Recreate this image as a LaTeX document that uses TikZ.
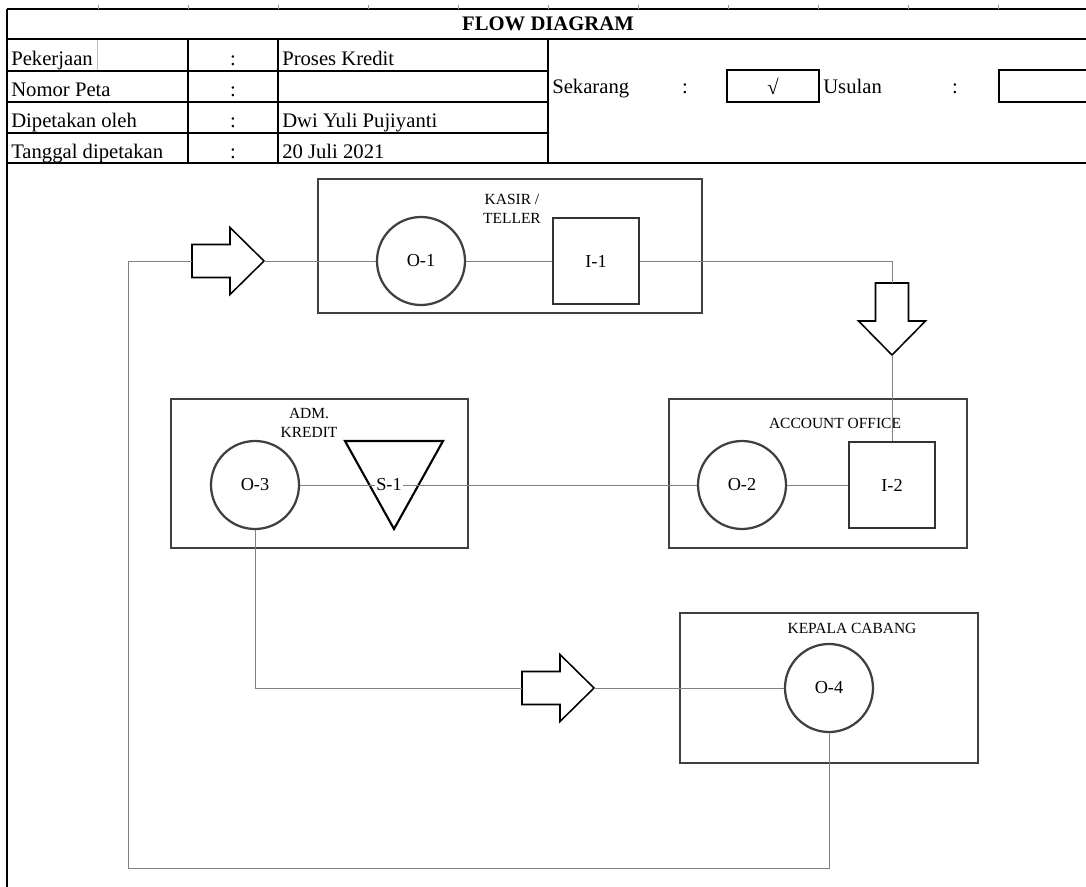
\documentclass[tikz,border=0pt]{standalone}
\usepackage{fontspec}
\setmainfont{Liberation Serif}
\newcommand{\unitpx}{0.025cm}

\begin{document}
\begin{tikzpicture}[x=\unitpx, y=-\unitpx,
    every node/.style={font=\fontsize{14.7}{17}\selectfont},
    rowline/.style={line width=1pt},
    colline/.style={line width=1.6pt},
    station/.style={rectangle, draw=black!75, line width=1.6pt},
    opr/.style={circle, draw=black!75, line width=1.6pt, minimum size=88*\unitpx,
                inner sep=0pt, font=\fontsize{13}{15}\selectfont},
    insp/.style={rectangle, draw=black!80, line width=1.6pt, minimum size=86*\unitpx,
                 inner sep=0pt, font=\fontsize{13}{15}\selectfont},
    ttl/.style={align=center, inner sep=0pt, font=\fontsize{11}{14}\selectfont},
    conn/.style={draw=black!50, line width=0.7pt},
    blockarr/.style={draw=black, line width=1.1pt, fill=white, line join=miter},
    blockright/.pic={
      \draw[blockarr] (0,-16.5) -- (38,-16.5) -- (38,-33.5) -- (72,0)
        -- (38,33.5) -- (38,16.5) -- (0,16.5) -- cycle;
      \coordinate (-tail) at (0,0);
      \coordinate (-tip) at (72,0);
    }
  ]
    \useasboundingbox (0,0) rectangle (1086,887);

    % header sheet
    \draw[line width=0.8pt] (7,9) -- (1086,9);
    \foreach \x in {98,188,...,998} \draw[black!40, line width=0.5pt] (\x,5) -- (\x,9);
    \draw[line width=1.4pt] (7,9) -- (7,887);
    \node[font=\bfseries\fontsize{14.7}{17}\selectfont] (title) at (548,24) {FLOW DIAGRAM};
    \draw[line width=1.4pt] (7,39) -- (1086,39);
    \foreach \y in {71,102,133} \draw[rowline] (7,\y) -- (548,\y);
    \draw[line width=1.8pt] (7,163) -- (1086,163);
    \foreach \x in {188,278} \draw[colline] (\x,39) -- (\x,163);
    \draw[line width=1.8pt] (548,39) -- (548,163);
    \draw[black!25, line width=0.6pt] (97,40) -- (97,70);

    \foreach \lbl/\val/\y [count=\i] in {Pekerjaan/Proses Kredit/66, Nomor Peta//97,
        Dipetakan oleh/Dwi Yuli Pujiyanti/128, Tanggal dipetakan/20 Juli 2021/158}{
      \node[anchor=base west, inner sep=0pt] (lbl\i) at (11,\y) {\lbl};
      \node[anchor=base, inner sep=0pt] (sep\i) at (233,\y) {:};
      \node[anchor=base west, inner sep=0pt] (val\i) at (282,\y) {\val};
    }

    \node[anchor=base west, inner sep=0pt] (now) at (552,94) {Sekarang};
    \node[anchor=base, inner sep=0pt] (nowsep) at (685,94) {:};
    \node[draw, line width=1.8pt, minimum width=92*\unitpx, minimum height=32*\unitpx,
          inner sep=0pt] (nowbox) at (773,86) {√};
    \node[anchor=base west, inner sep=0pt] (plan) at (823,94) {Usulan};
    \node[anchor=base, inner sep=0pt] (plansep) at (955,94) {:};
    \node[draw, line width=1.8pt, minimum width=96*\unitpx, minimum height=32*\unitpx,
          inner sep=0pt] (planbox) at (1047,86) {};

    % work stations
    \node[station, minimum width=384*\unitpx, minimum height=134*\unitpx] (kasir) at (510,246) {};
    \node[station, minimum width=297*\unitpx, minimum height=149*\unitpx] (adm) at (319.5,473.5) {};
    \node[station, minimum width=298*\unitpx, minimum height=149*\unitpx] (acc) at (818,473.5) {};
    \node[station, minimum width=298*\unitpx, minimum height=150*\unitpx] (kacab) at (829,688) {};

    \node[ttl] (kasirttl) at (512,209) {KASIR /\\TELLER};
    \node[ttl] (admttl) at (309,423) {ADM.\\KREDIT};
    \node[ttl] (accttl) at (835,423) {ACCOUNT OFFICE};
    \node[ttl] (kacabttl) at (852,628) {KEPALA CABANG};

    % activities
    \node[opr] (o1) at (421,261) {O-1};
    \node[insp] (i1) at (596,261) {I-1};
    \node[opr] (o3) at (255,485) {O-3};
    \draw[line width=1.5pt, line join=miter] (345,441) -- (443,441) -- (394,529) -- cycle;
    \node[inner sep=1pt, font=\fontsize{13}{15}\selectfont] (s1) at (389,485) {S-1};
    \node[opr] (o2) at (742,485) {O-2};
    \node[insp] (i2) at (892,485) {I-2};
    \node[opr] (o4) at (829,688) {O-4};

    % transport arrows
    \pic (toKasir) at (192,261) {blockright};
    \pic[rotate=-90] (toAcc) at (892,283) {blockright};
    \pic (toKacab) at (522,688) {blockright};

    \coordinate (loop) at (128,868);
    \draw[conn] (o4) |- (loop) |- (toKasir-tail);
    \draw[conn] (toKasir-tip) -- (o1) -- (i1);
    \draw[conn] (i1) -| (toAcc-tail);
    \draw[conn] (toAcc-tip) -- (i2);
    \draw[conn] (i2) -- (o2) -- (s1) -- (o3);
    \draw[conn] (o3) |- (toKacab-tail);
    \draw[conn] (toKacab-tip) -- (o4);
\end{tikzpicture}
\end{document}
